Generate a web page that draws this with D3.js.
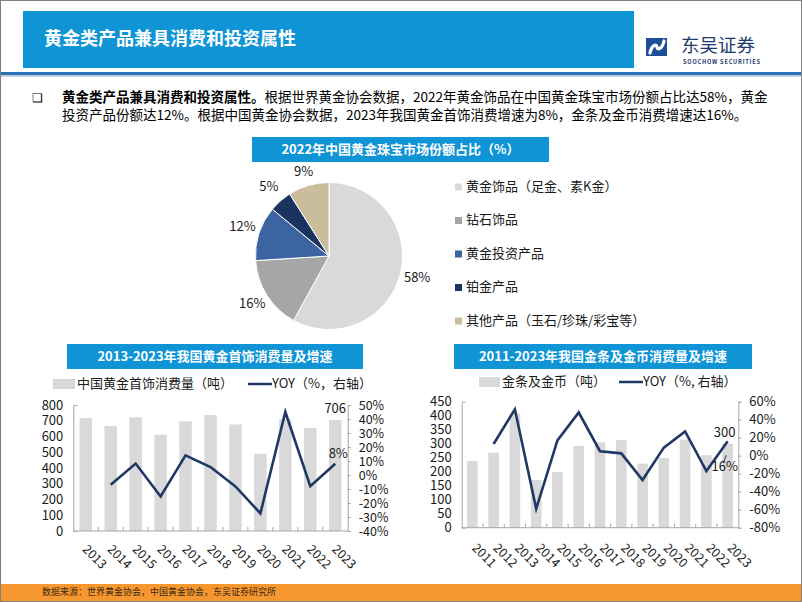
<!DOCTYPE html>
<html><head><meta charset="utf-8">
<script src="https://cdn.jsdelivr.net/npm/d3@7"></script>
<style>
body{margin:0;background:#fff}
svg{display:block}
text{font-family:"Noto Sans CJK SC","Noto Sans",sans-serif}
</style>
</head><body>
<svg id="c" width="802" height="602"></svg>
<script>
// ---------- data ----------
const pieCategories = ["黄金饰品（足金、素K金）","钻石饰品","黄金投资产品","铂金产品","其他产品（玉石/珍珠/彩宝等）"];
const pieValues = [58,16,12,5,9];
const pieColors = ["#D9D9D9","#A6A6A6","#3C64A0","#1B345F","#C9BD9B"];

const jewelryYears = ["2013","2014","2015","2016","2017","2018","2019","2020","2021","2022","2023"];
const jewelryTons  = [716.5,667.1,721.6,611.1,696.5,736.3,676.2,490.6,711.3,654.4,706];
const jewelryYoy   = [null,-6.9,8.2,-15.3,14.0,5.7,-8.2,-27.4,45.0,-8.0,8.0];
const jewelryLeftTicks  = [0,100,200,300,400,500,600,700,800];
const jewelryRightTicks = [-40,-30,-20,-10,0,10,20,30,40,50];

const coinYears = ["2011","2012","2013","2014","2015","2016","2017","2018","2019","2020","2021","2022","2023"];
const coinTons  = [238,268,408,170,199,292,305,313,229,249,315,259,300];
const coinYoy   = [null,13,51.5,-59,17,48,5,2.6,-27,9,27,-17,16];
const coinLeftTicks  = [0,50,100,150,200,250,300,350,400,450];
const coinRightTicks = [-80,-60,-40,-20,0,20,40,60];

const BLUE = "#0F94D6", NAVY = "#1F3864", AXIS = "#A6A6A6", TXT = "#1a1a1a";

const svg = d3.select("#c");

// ---------- frame / header ----------
svg.append("rect").attr("x",0.5).attr("y",0.5).attr("width",801).attr("height",601)
  .attr("fill","#fff").attr("stroke","#7f7f7f");
svg.append("rect").attr("x",23).attr("y",11).attr("width",611).attr("height",57).attr("fill",BLUE);
svg.append("text").attr("x",44).attr("y",40).attr("dominant-baseline","middle")
  .attr("fill","#fff").attr("font-size",18).attr("font-weight","bold").text("黄金类产品兼具消费和投资属性");
svg.append("rect").attr("x",1).attr("y",72).attr("width",800).attr("height",3.5).attr("fill","#2A72B8");
svg.append("rect").attr("x",1).attr("y",75.5).attr("width",800).attr("height",1.5).attr("fill","#d0d8e4");

// logo
svg.append("rect").attr("x",646).attr("y",38).attr("width",21).attr("height",18).attr("fill","#1D4E9A");
svg.append("path").attr("d","M650,53 C652,44 657,44 657,47 C657,50 662,50 664,41")
  .attr("fill","none").attr("stroke","#fff").attr("stroke-width",3.2).attr("stroke-linecap","round");
svg.append("text").attr("x",681).attr("y",47).attr("dominant-baseline","middle")
  .attr("fill","#1E3A6E").attr("font-size",18.5).text("东吴证券");
svg.append("text").attr("x",683).attr("y",64).attr("fill","#1E3A6E").attr("font-size",5.6)
  .attr("font-weight","bold").attr("font-family","Liberation Sans").attr("textLength",77).text("SOOCHOW SECURITIES");

// bullet text
svg.append("text").attr("x",32).attr("y",102).attr("font-size",12).attr("fill","#000").text("❑");
const t1 = svg.append("text").attr("x",62).attr("y",102).attr("font-size",13.5).attr("fill","#000");
t1.append("tspan").attr("font-weight","bold").text("黄金类产品兼具消费和投资属性。");
t1.append("tspan").text("根据世界黄金协会数据，2022年黄金饰品在中国黄金珠宝市场份额占比达58%，黄金");
svg.append("text").attr("x",62).attr("y",120).attr("font-size",13.5).attr("fill","#000")
  .text("投资产品份额达12%。根据中国黄金协会数据，2023年我国黄金首饰消费增速为8%，金条及金币消费增速达16%。");

// footer
svg.append("rect").attr("x",1).attr("y",584).attr("width",800).attr("height",17).attr("fill","#F7972F");
svg.append("text").attr("x",42).attr("y",593).attr("dominant-baseline","middle").attr("font-size",9)
  .attr("fill","#3a2a10").text("数据来源：世界黄金协会，中国黄金协会，东吴证券研究所");

function titleBox(x,y,w,h,label){
  svg.append("rect").attr("x",x).attr("y",y).attr("width",w).attr("height",h).attr("fill",BLUE);
  svg.append("text").attr("x",x+w/2).attr("y",y+h/2+0.5).attr("text-anchor","middle")
    .attr("dominant-baseline","middle").attr("fill","#fff").attr("font-size",13)
    .attr("font-weight","bold").text(label);
}

// ---------- pie ----------
titleBox(252,137,297,25,"2022年中国黄金珠宝市场份额占比（%）");
const pcx = 329, pcy = 256, pr = 73.5;
const pieGen = d3.pie().sort(null).value(d=>d);
const arcs = pieGen(pieValues);
const arcGen = d3.arc().innerRadius(0).outerRadius(pr);
const labelArc = d3.arc().innerRadius(91).outerRadius(91);
const pg = svg.append("g").attr("transform",`translate(${pcx},${pcy})`);
pg.selectAll("path").data(arcs).join("path").attr("d",arcGen)
  .attr("fill",(d,i)=>pieColors[i]).attr("stroke","#fff").attr("stroke-width",1);
pg.selectAll("text").data(arcs).join("text")
  .attr("transform",d=>{const c=labelArc.centroid(d); return `translate(${c[0]},${c[1]+(d.value===9?4:0)})`;})
  .attr("text-anchor","middle").attr("dominant-baseline","middle")
  .attr("font-size",13).attr("fill",TXT).text(d=>d.value+"%");

const legY = d3.scalePoint().domain(pieCategories).range([187,321]);
const lg = svg.append("g");
pieCategories.forEach((c,i)=>{
  lg.append("rect").attr("x",455).attr("y",legY(c)-3.5).attr("width",7).attr("height",7).attr("fill",pieColors[i]);
  lg.append("text").attr("x",466).attr("y",legY(c)).attr("dominant-baseline","middle")
    .attr("font-size",13).attr("fill",TXT).text(c);
});

// ---------- combo charts ----------
function combo(o){
  const n = o.cats.length;
  const x = d3.scaleBand().domain(o.cats).range([o.x0,o.x1]).paddingInner(o.pad).paddingOuter(o.pad/2);
  const yL = d3.scaleLinear().domain(o.lDom).range([o.yb,o.yt]);
  const yR = d3.scaleLinear().domain(o.rDom).range([o.yb,o.yt]);
  const g = svg.append("g");

  // bars
  g.selectAll("rect.bar").data(o.bars).join("rect").attr("class","bar")
    .attr("x",(d,i)=>x(o.cats[i])).attr("width",x.bandwidth())
    .attr("y",d=>yL(d)).attr("height",d=>yL(0)-yL(d)).attr("fill","#D9D9D9");

  // left axis
  const la = g.append("g").attr("transform",`translate(${o.x0},0)`)
    .call(d3.axisLeft(yL).tickValues(o.lTicks).tickSizeInner(0).tickSizeOuter(-4).tickPadding(10));
  la.select(".domain").attr("stroke",AXIS);
  la.selectAll("text").attr("font-size",13).attr("fill",TXT).attr("font-family","Noto Sans CJK SC");

  // right axis
  const ra = g.append("g").attr("transform",`translate(${o.x1},0)`)
    .call(d3.axisRight(yR).tickValues(o.rTicks).tickSize(3).tickPadding(8).tickFormat(d=>d+"%"));
  ra.select(".domain").attr("stroke",AXIS);
  ra.selectAll("line").attr("stroke",AXIS);
  ra.selectAll("text").attr("font-size",o.rFont).attr("fill",TXT).attr("font-family","Noto Sans CJK SC");

  // x axis
  g.append("line").attr("x1",o.x0).attr("x2",o.x1).attr("y1",o.yb).attr("y2",o.yb).attr("stroke",AXIS);
  const step = x.step();
  g.selectAll("line.xt").data(o.cats.slice(1)).join("line").attr("class","xt")
    .attr("x1",d=>x(d)-step*o.pad/2).attr("x2",d=>x(d)-step*o.pad/2)
    .attr("y1",o.yb).attr("y2",o.yb-4).attr("stroke",AXIS);
  g.selectAll("text.xl").data(o.cats).join("text").attr("class","xl")
    .attr("transform",d=>`translate(${x(d)+x.bandwidth()/2+o.lx},${o.yb+o.ly}) rotate(45)`)
    .attr("font-size",12.5).attr("fill",TXT).text(d=>d);

  // line
  const pts = o.yoy.map((v,i)=>({c:o.cats[i],v})).filter(d=>d.v!==null);
  g.append("path").datum(pts)
    .attr("d",d3.line().x(d=>x(d.c)+x.bandwidth()/2).y(d=>yR(d.v)))
    .attr("fill","none").attr("stroke",NAVY).attr("stroke-width",2.6).attr("stroke-linejoin","miter");

  // data labels for last point
  const lc = o.cats[n-1], cx = x(lc)+x.bandwidth()/2;
  g.append("text").attr("x",cx+o.barLab[0]).attr("y",yL(o.bars[n-1])+o.barLab[1]).attr("text-anchor","middle")
    .attr("font-size",13).attr("fill",TXT).text(Math.round(o.bars[n-1]));
  g.append("text").attr("x",cx+o.yoyLab[0]).attr("y",yR(o.yoy[n-1])+o.yoyLab[1]).attr("text-anchor","middle")
    .attr("font-size",13).attr("fill",TXT).text(Math.round(o.yoy[n-1])+"%");
  if(o.leader){
    g.append("line").attr("x1",cx+o.leader[0]).attr("y1",yR(o.yoy[n-1])+o.leader[1])
      .attr("x2",cx+o.leader[2]).attr("y2",yR(o.yoy[n-1])+o.leader[3]).attr("stroke",NAVY).attr("stroke-width",1);
  }

  // legend
  const L = o.leg;
  g.append("rect").attr("x",L.rx).attr("y",L.y-5).attr("width",L.rw).attr("height",10).attr("fill","#D9D9D9");
  g.append("text").attr("x",L.rx+L.rw+2).attr("y",L.y).attr("dominant-baseline","middle")
    .attr("font-size",13).attr("fill",TXT).text(L.barName);
  g.append("line").attr("x1",L.lx).attr("x2",L.lx+24).attr("y1",L.y).attr("y2",L.y).attr("stroke",NAVY).attr("stroke-width",2.5);
  g.append("text").attr("x",L.lx+24).attr("y",L.y).attr("dominant-baseline","middle")
    .attr("font-size",13).attr("fill",TXT).text(L.lineName);
}

titleBox(67,344,296,25,"2013-2023年我国黄金首饰消费量及增速");
combo({cats:jewelryYears,bars:jewelryTons,yoy:jewelryYoy,lDom:[0,800],rDom:[-40,50],
  lTicks:jewelryLeftTicks,rTicks:jewelryRightTicks,x0:73.3,x1:347.7,yt:405,yb:531,pad:0.5,
  lx:-4,ly:19,barLab:[0,-7],yoyLab:[3,-6],rFont:12.5,
  leg:{y:384,rx:53,rw:22,barName:"中国黄金首饰消费量（吨）",lx:248,lineName:"YOY（%，右轴）"}});

titleBox(454,344,298,25,"2011-2023年我国金条及金币消费量及增速");
combo({cats:coinYears,bars:coinTons,yoy:coinYoy,lDom:[0,450],rDom:[-80,60],
  lTicks:coinLeftTicks,rTicks:coinRightTicks,x0:461.7,x1:738.3,yt:401.7,yb:527.7,pad:0.5,
  lx:-1,ly:21,barLab:[-3,-7],yoyLab:[-3,30],leader:[-4.5,22,-1.5,14],rFont:13,
  leg:{y:382,rx:479,rw:21,barName:"金条及金币（吨）",lx:619,lineName:"YOY（%, 右轴）"}});
</script>
</body></html>
